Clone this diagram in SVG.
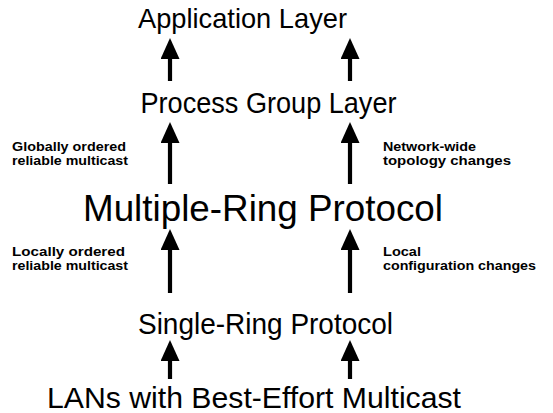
<svg xmlns="http://www.w3.org/2000/svg" width="553" height="413" viewBox="0 0 553 413">
<defs>
<style>
.layer{font-family:"Liberation Sans",Arial,sans-serif;fill:#000}
.lbl{font-family:"Liberation Sans",Arial,sans-serif;font-weight:bold;font-size:12px;fill:#000}
.conn line{stroke:#000;stroke-width:4.2;marker-end:url(#ah)}
</style>
<marker id="ah" markerUnits="userSpaceOnUse" markerWidth="22" markerHeight="20" refX="11" refY="9.5" orient="auto" viewBox="0 0 22 20">
<path d="M0,0 L21,9.5 L0,19 Z" fill="#000"/>
</marker>
</defs>
<rect width="553" height="413" fill="#fff"/>
<g id="app"><text class="layer" x="138" y="28" font-size="28" textLength="209" lengthAdjust="spacingAndGlyphs">Application Layer</text></g>
<g id="pgl"><text class="layer" x="140.5" y="113" font-size="29" textLength="256" lengthAdjust="spacingAndGlyphs">Process Group Layer</text></g>
<g id="mrp"><text class="layer" x="83" y="221" font-size="36" textLength="360" lengthAdjust="spacingAndGlyphs">Multiple-Ring Protocol</text></g>
<g id="srp"><text class="layer" x="138" y="334" font-size="29" textLength="255" lengthAdjust="spacingAndGlyphs">Single-Ring Protocol</text></g>
<g id="lan"><text class="layer" x="47" y="408" font-size="30" textLength="414" lengthAdjust="spacingAndGlyphs">LANs with Best-Effort Multicast</text></g>
<g id="lbl-global"><text class="lbl" x="12" y="151" textLength="114" lengthAdjust="spacingAndGlyphs">Globally ordered</text><text class="lbl" x="12" y="165" textLength="116" lengthAdjust="spacingAndGlyphs">reliable multicast</text></g>
<g id="lbl-topo"><text class="lbl" x="383" y="151" textLength="93" lengthAdjust="spacingAndGlyphs">Network-wide</text><text class="lbl" x="383" y="165" textLength="128" lengthAdjust="spacingAndGlyphs">topology changes</text></g>
<g id="lbl-local"><text class="lbl" x="12" y="256" textLength="113" lengthAdjust="spacingAndGlyphs">Locally ordered</text><text class="lbl" x="12" y="270" textLength="116" lengthAdjust="spacingAndGlyphs">reliable multicast</text></g>
<g id="lbl-config"><text class="lbl" x="383" y="256" textLength="38" lengthAdjust="spacingAndGlyphs">Local</text><text class="lbl" x="383" y="270" textLength="153" lengthAdjust="spacingAndGlyphs">configuration changes</text></g>
<g id="connectors" class="conn">
<line x1="170" y1="81" x2="170" y2="48"/>
<line x1="350" y1="81" x2="350" y2="48"/>
<line x1="170" y1="184" x2="170" y2="132"/>
<line x1="350" y1="184" x2="350" y2="132"/>
<line x1="170" y1="293" x2="170" y2="239"/>
<line x1="350" y1="293" x2="350" y2="239"/>
<line x1="170" y1="379" x2="170" y2="350"/>
<line x1="350" y1="379" x2="350" y2="350"/>
</g>
</svg>
